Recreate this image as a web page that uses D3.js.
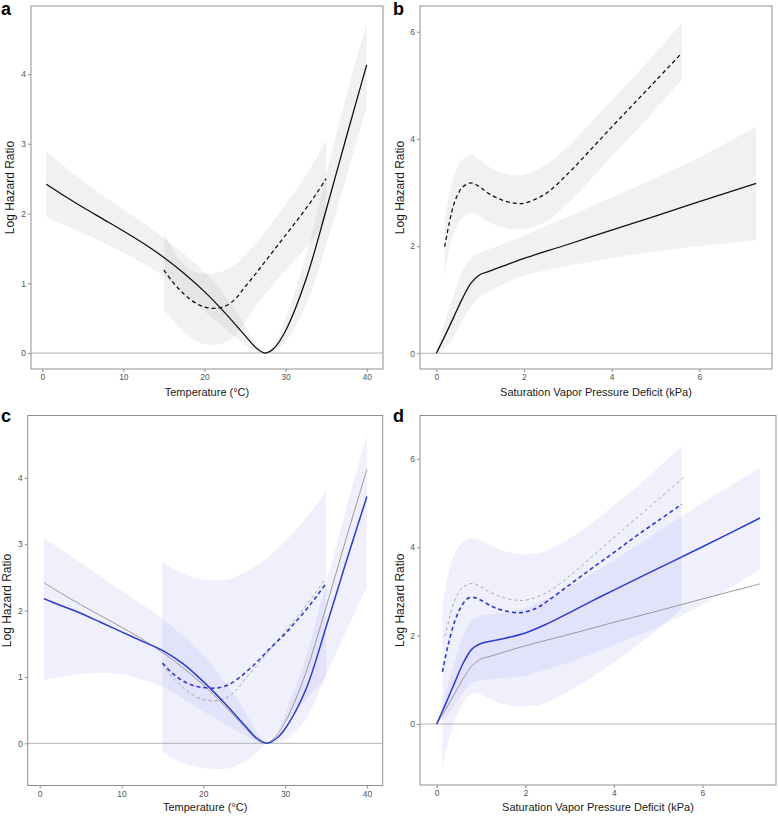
<!DOCTYPE html>
<html><head><meta charset="utf-8">
<script src="https://cdn.jsdelivr.net/npm/d3@7"></script>
<style>
html,body{margin:0;padding:0;background:#fff;}
svg{display:block;font-family:"Liberation Sans",Arial,sans-serif;}
</style></head>
<body><svg id="chart" width="778" height="816"></svg>
<script>
// ---------- DATA ----------
const tempTicks = [0, 10, 20, 30, 40];
const vpdTicks = [0, 2, 4, 6];
const lhrTicksTemp = [0, 1, 2, 3, 4];
const lhrTicksVpd = [0, 2, 4, 6];
const panelLetters = ["a", "b", "c", "d"];
const xTitleTemp = "Temperature (°C)";
const xTitleVpd = "Saturation Vapor Pressure Deficit (kPa)";
const yTitle = "Log Hazard Ratio";

// Panel a: temperature, overall (solid) and subgroup (dashed)
const aSolidX  = [0.5,2.5,5,7.5,10,12.5,15,17.5,20,22.5,25,26.5,27.5,28.5,30,32.5,35,37.5,40];
const aSolidY  = [2.42,2.27,2.09,1.92,1.75,1.57,1.37,1.14,0.88,0.58,0.25,0.06,0,0.06,0.32,1.05,2.05,3.10,4.13];
const aSolidLo = [1.95,1.85,1.72,1.58,1.44,1.28,1.10,0.86,0.60,0.35,0.12,0.02,0,0.03,0.16,0.68,1.55,2.52,3.53];
const aSolidHi = [2.88,2.70,2.47,2.26,2.06,1.86,1.64,1.42,1.16,0.83,0.40,0.10,0,0.10,0.50,1.40,2.55,3.70,4.72];
const aDashX  = [15,16,17,18,19,20,21,22,23,24,25,26,27,28,29,30,31,32,33,34,35];
const aDashY  = [1.19,1.03,0.90,0.79,0.71,0.66,0.64,0.65,0.70,0.80,0.95,1.09,1.24,1.39,1.54,1.69,1.84,1.99,2.15,2.32,2.50];
const aDashHi = [1.72,1.50,1.33,1.22,1.16,1.14,1.14,1.16,1.21,1.29,1.40,1.53,1.67,1.82,1.97,2.13,2.29,2.46,2.64,2.84,3.05];
const aDashLo = [0.62,0.48,0.35,0.25,0.17,0.13,0.12,0.13,0.18,0.28,0.45,0.62,0.78,0.92,1.06,1.18,1.31,1.44,1.58,1.74,1.92];

// Panel b: VPD
const bSolidX  = [0,0.2,0.4,0.6,0.8,1.0,1.2,1.5,2,3,4,5,6,7.3];
const bSolidY  = [0,0.33,0.68,1.03,1.32,1.47,1.53,1.62,1.77,2.03,2.30,2.56,2.83,3.17];
const bSolidLo = [0,0.10,0.32,0.62,0.88,1.06,1.16,1.28,1.45,1.63,1.78,1.90,2.00,2.11];
const bSolidHi = [0,0.60,1.10,1.55,1.78,1.88,1.94,2.03,2.20,2.55,2.90,3.27,3.65,4.23];
const bDashX  = [0.19,0.3,0.4,0.5,0.6,0.8,1.0,1.2,1.5,1.8,2.0,2.5,3,3.5,4,4.5,5,5.6];
const bDashY  = [1.99,2.45,2.78,2.98,3.10,3.18,3.10,2.98,2.86,2.80,2.80,2.98,3.35,3.78,4.22,4.65,5.08,5.60];
const bDashHi = [2.55,2.95,3.30,3.50,3.62,3.70,3.60,3.48,3.37,3.32,3.33,3.52,3.85,4.28,4.72,5.15,5.60,6.16];
const bDashLo = [1.45,1.95,2.25,2.42,2.53,2.62,2.55,2.45,2.35,2.31,2.32,2.45,2.80,3.22,3.67,4.10,4.55,5.10];

// Panel c: temperature, adjusted (blue)
const cSolidX  = [0.5,2.5,5,7.5,10,12.5,15,17.5,20,22.5,25,26.5,27.8,29,30,32.5,35,37.5,40];
const cSolidY  = [2.18,2.08,1.96,1.82,1.68,1.54,1.40,1.20,0.93,0.62,0.28,0.08,0,0.08,0.22,0.80,1.75,2.75,3.72];
const cSolidHi = [3.09,2.93,2.72,2.51,2.30,2.09,1.88,1.62,1.33,0.95,0.50,0.18,0,0.18,0.45,1.28,2.42,3.55,4.65];
const cSolidLo = [0.95,1.00,1.04,1.06,1.04,0.96,0.85,0.68,0.48,0.30,0.12,0.03,0,0.02,0.05,0.36,1.02,1.70,2.35];
const cDashX  = [15,16,17,18,19,20,21,22,23,24,25,26,27,28,29,30,31,32,33,34,35];
const cDashY  = [1.21,1.08,0.98,0.91,0.86,0.84,0.83,0.84,0.88,0.95,1.05,1.16,1.28,1.41,1.53,1.65,1.79,1.93,2.08,2.24,2.41];
const cDashHi = [2.74,2.65,2.58,2.53,2.49,2.47,2.46,2.46,2.47,2.51,2.57,2.64,2.72,2.81,2.92,3.04,3.17,3.31,3.47,3.63,3.81];
const cDashLo = [-0.13,-0.21,-0.27,-0.32,-0.35,-0.37,-0.39,-0.39,-0.38,-0.34,-0.28,-0.19,-0.08,0.05,0.18,0.31,0.45,0.58,0.72,0.86,1.00];

// Panel d: VPD, adjusted (blue)
const dSolidX  = [0,0.2,0.4,0.6,0.8,1.0,1.25,1.5,2,2.5,3,3.5,4,5,6,7.3];
const dSolidY  = [0,0.45,0.92,1.38,1.70,1.82,1.88,1.93,2.06,2.27,2.52,2.78,3.03,3.52,4.01,4.66];
const dSolidHi = [0,0.70,1.40,2.00,2.35,2.45,2.49,2.52,2.62,2.84,3.10,3.40,3.70,4.35,5.00,5.79];
const dSolidLo = [0,0.15,0.42,0.72,0.93,0.98,1.01,1.04,1.10,1.24,1.40,1.58,1.78,2.20,2.70,3.50];
const dDashX  = [0.13,0.25,0.4,0.55,0.7,0.85,1.0,1.25,1.5,1.9,2.25,2.5,3,3.5,4,4.5,5,5.53];
const dDashY  = [1.18,1.75,2.30,2.65,2.84,2.86,2.80,2.66,2.57,2.52,2.62,2.78,3.15,3.52,3.88,4.25,4.60,4.97];
const dDashHi = [2.69,3.35,3.85,4.08,4.18,4.20,4.15,4.02,3.92,3.84,3.86,3.93,4.20,4.55,4.95,5.35,5.80,6.28];
const dDashLo = [-0.97,-0.45,0.05,0.40,0.62,0.70,0.66,0.55,0.45,0.39,0.42,0.50,0.75,1.05,1.40,1.75,2.15,2.60];

// ---------- DRAWING ----------
const svg = d3.select("#chart");
const BLUE = "#2b3bcb";
const zip = (xs, ...cols) => xs.map((x, i) => ({x, v: cols.map(c => c[i])}));
const CURVE = d3.curveCatmullRom.alpha(0.5);

function panel(cfg) {
  const x = d3.scaleLinear().domain(cfg.xd).range([cfg.left, cfg.right]);
  const y = d3.scaleLinear().domain(cfg.yd).range([cfg.bottom, cfg.top]);
  const g = svg.append("g");
  const cid = "clip" + cfg.letter;
  g.append("clipPath").attr("id", cid).append("rect")
    .attr("x", cfg.left).attr("y", cfg.top)
    .attr("width", cfg.right - cfg.left).attr("height", cfg.bottom - cfg.top);
  const plot = g.append("g").attr("clip-path", `url(#${cid})`);

  const area = d3.area().x(d => x(d.x)).y0(d => y(d.v[0])).y1(d => y(d.v[1])).curve(CURVE);
  const line = d3.line().x(d => x(d.x)).y(d => y(d.v[0])).curve(CURVE);

  cfg.bands.forEach(b => {
    plot.append("path").datum(zip(b.x, b.lo, b.hi)).attr("d", area)
      .attr("fill", b.fill).attr("fill-opacity", b.op).attr("stroke", "none");
  });
  plot.append("line").attr("x1", cfg.left).attr("x2", cfg.right)
    .attr("y1", y(0)).attr("y2", y(0)).attr("stroke", "#b3b3b3").attr("stroke-width", 1);
  cfg.lines.forEach(l => {
    plot.append("path").datum(zip(l.x, l.y)).attr("d", line)
      .attr("fill", "none").attr("stroke", l.color).attr("stroke-width", l.w)
      .attr("stroke-dasharray", l.dash || null);
  });

  g.append("rect").attr("x", cfg.left).attr("y", cfg.top)
    .attr("width", cfg.right - cfg.left).attr("height", cfg.bottom - cfg.top)
    .attr("fill", "none").attr("stroke", "#8f8f8f").attr("stroke-width", 1);

  const ax = g.append("g").attr("transform", `translate(0,${cfg.bottom})`)
    .call(d3.axisBottom(x).tickValues(cfg.xt).tickSize(3).tickPadding(2).tickFormat(d3.format("d")));
  const ay = g.append("g").attr("transform", `translate(${cfg.left},0)`)
    .call(d3.axisLeft(y).tickValues(cfg.yt).tickSize(3).tickPadding(2).tickFormat(d3.format("d")));
  [ax, ay].forEach(a => {
    a.select(".domain").remove();
    a.selectAll(".tick line").attr("stroke", "#8f8f8f");
    a.selectAll(".tick text").attr("fill", "#555").attr("font-size", 8.5)
      .attr("font-family", "Liberation Sans, Arial, sans-serif");
  });

  g.append("text").attr("x", (cfg.left + cfg.right) / 2).attr("y", cfg.xtY)
    .attr("text-anchor", "middle").attr("font-size", 11).attr("fill", "#1a1a1a").text(cfg.xTitle);
  g.append("text").attr("transform", `translate(${cfg.ytX},${(cfg.top + cfg.bottom) / 2}) rotate(-90)`)
    .attr("text-anchor", "middle").attr("font-size", 12).attr("fill", "#1a1a1a").text(yTitle);
  g.append("text").attr("x", cfg.lx).attr("y", cfg.ly).attr("font-size", 18)
    .attr("font-weight", "bold").attr("fill", "#000").text(cfg.letter);
}

const GRAYF = "#b8b8b8", GOP = 0.2;
const BLUEF = "#6a6af0", BOP = 0.1;

panel({letter: panelLetters[0], left: 31, right: 383, top: 6, bottom: 369,
  xd: [-1.39, 42.01], yd: [-0.229, 4.975], xt: tempTicks, yt: lhrTicksTemp,
  xTitle: xTitleTemp, xtY: 395.5, ytX: 14, lx: 1, ly: 15,
  bands: [
    {x: aSolidX, lo: aSolidLo, hi: aSolidHi, fill: GRAYF, op: GOP},
    {x: aDashX, lo: aDashLo, hi: aDashHi, fill: GRAYF, op: GOP}],
  lines: [
    {x: aSolidX, y: aSolidY, color: "#111", w: 1.3},
    {x: aDashX, y: aDashY, color: "#111", w: 1.3, dash: "4,3"}]
});
panel({letter: panelLetters[1], left: 420, right: 772, top: 6, bottom: 369,
  xd: [-0.372, 7.66], yd: [-0.293, 6.48], xt: vpdTicks, yt: lhrTicksVpd,
  xTitle: xTitleVpd, xtY: 395.5, ytX: 404, lx: 393, ly: 15,
  bands: [
    {x: bSolidX, lo: bSolidLo, hi: bSolidHi, fill: GRAYF, op: GOP},
    {x: bDashX, lo: bDashLo, hi: bDashHi, fill: GRAYF, op: GOP}],
  lines: [
    {x: bSolidX, y: bSolidY, color: "#111", w: 1.3},
    {x: bDashX, y: bDashY, color: "#111", w: 1.3, dash: "4,3"}]
});
panel({letter: panelLetters[2], left: 27.7, right: 382.7, top: 415.5, bottom: 785.5,
  xd: [-1.47, 41.93], yd: [-0.636, 4.94], xt: tempTicks, yt: lhrTicksTemp,
  xTitle: xTitleTemp, xtY: 811, ytX: 11, lx: 1, ly: 422,
  bands: [
    {x: cSolidX, lo: cSolidLo, hi: cSolidHi, fill: BLUEF, op: BOP},
    {x: cDashX, lo: cDashLo, hi: cDashHi, fill: BLUEF, op: BOP}],
  lines: [
    {x: aSolidX, y: aSolidY, color: "#999", w: 1},
    {x: aDashX, y: aDashY, color: "#a5a5a5", w: 1, dash: "3,3"},
    {x: cSolidX, y: cSolidY, color: BLUE, w: 1.5},
    {x: cDashX, y: cDashY, color: BLUE, w: 1.6, dash: "4,3"}]
});
panel({letter: panelLetters[3], left: 420, right: 776, top: 415.5, bottom: 785,
  xd: [-0.377, 7.66], yd: [-1.38, 6.98], xt: vpdTicks, yt: lhrTicksVpd,
  xTitle: xTitleVpd, xtY: 811, ytX: 404, lx: 393, ly: 422,
  bands: [
    {x: dSolidX, lo: dSolidLo, hi: dSolidHi, fill: BLUEF, op: BOP},
    {x: dDashX, lo: dDashLo, hi: dDashHi, fill: BLUEF, op: BOP}],
  lines: [
    {x: bSolidX, y: bSolidY, color: "#999", w: 1},
    {x: bDashX, y: bDashY, color: "#a5a5a5", w: 1, dash: "3,3"},
    {x: dSolidX, y: dSolidY, color: BLUE, w: 1.5},
    {x: dDashX, y: dDashY, color: BLUE, w: 1.6, dash: "4,3"}]
});
</script></body></html>
